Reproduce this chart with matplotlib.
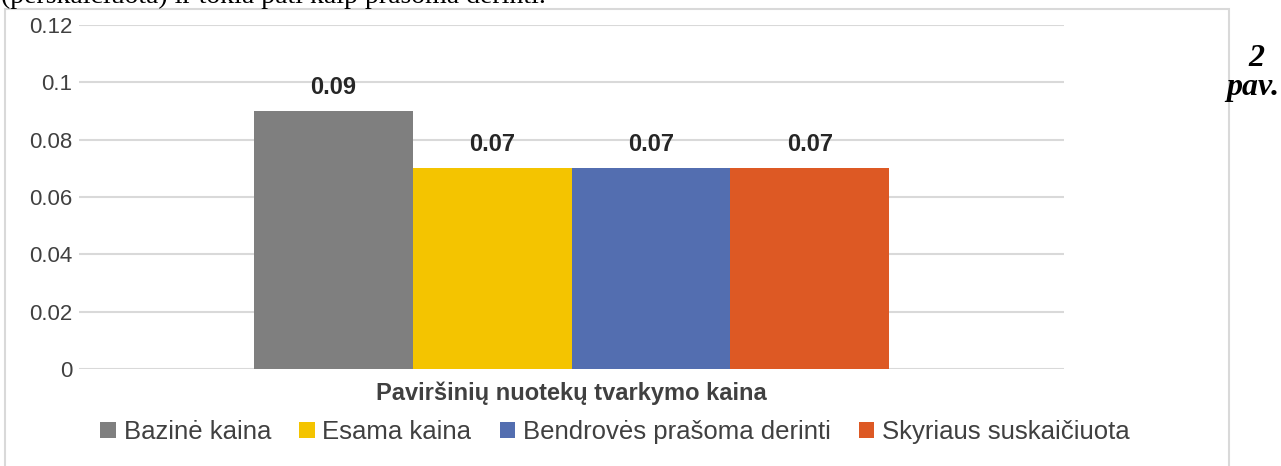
import matplotlib.pyplot as plt
from matplotlib.patches import Rectangle

# duomenys
kategorija = "Paviršinių nuotekų tvarkymo kaina"
serijos = ["Bazinė kaina", "Esama kaina", "Bendrovės prašoma derinti", "Skyriaus suskaičiuota"]
reiksmes = [0.09, 0.07, 0.07, 0.07]
spalvos = ["#7f7f7f", "#f4c400", "#536eb0", "#dd5924"]
y_ticks = [0, 0.02, 0.04, 0.06, 0.08, 0.1, 0.12]
y_labels = ["0", "0.02", "0.04", "0.06", "0.08", "0.1", "0.12"]

plt.rcParams['font.family'] = ['Liberation Sans', 'DejaVu Sans']

fig = plt.figure(figsize=(12.81, 4.66), dpi=100)
W, H = 1281, 466

# diagramos rėmelis
fig.patches.append(Rectangle((5 / W, -0.05), 1224 / W, 1 - 9 / H + 0.05,
                             transform=fig.transFigure, fill=False,
                             edgecolor="#d9d9d9", linewidth=1.5))

ax = fig.add_axes([79 / W, 1 - 369 / H, 985 / W, 344 / H])
pozicijos = [-1.5, -0.5, 0.5, 1.5]
bars = ax.bar(pozicijos, reiksmes, width=1.0, color=spalvos, label=serijos, zorder=3)
for b, v in zip(bars, reiksmes):
    ax.text(b.get_x() + b.get_width() / 2, v + 0.0042, f"{v:.2f}", ha="center", va="bottom",
            fontsize=17, fontweight="bold", color="#262626")

ax.set_xlim(-3.1, 3.1)
ax.set_ylim(0, 0.12)
ax.set_yticks(y_ticks)
ax.set_yticklabels(y_labels, fontsize=16, color="#404040")
ax.set_xticks([0])
ax.set_xticklabels([kategorija], fontsize=17, fontweight="bold", color="#404040")
ax.tick_params(axis="y", length=0, pad=5)
ax.tick_params(axis="x", length=0, pad=9)
ax.grid(axis="y", color="#d9d9d9", linewidth=1.5, zorder=0)
for s in ax.spines.values():
    s.set_visible(False)

fig.legend(handles=bars, labels=serijos, loc="center", bbox_to_anchor=(615 / W, 1 - 432 / H),
           ncol=4, frameon=False, fontsize=18.5, handlelength=0.6, handleheight=0.6,
           handletextpad=0.3, columnspacing=1.1, labelcolor="#404040")

# tekstas aplink diagramą
fig.text(1 / W, 1 - 3 / H, "(perskaičiuota) ir tokia pati kaip prašoma derinti.",
         fontsize=20, family="Liberation Serif", va="baseline", ha="left")
fig.text(1256 / W, 1 - 58 / H, "2", fontsize=23, family="Liberation Serif",
         fontweight="bold", style="italic", ha="center", va="center")
fig.text(1253 / W, 1 - 88 / H, "pav.", fontsize=23, family="Liberation Serif",
         fontweight="bold", style="italic", ha="center", va="center")

fig.savefig("out.png", dpi=100)
